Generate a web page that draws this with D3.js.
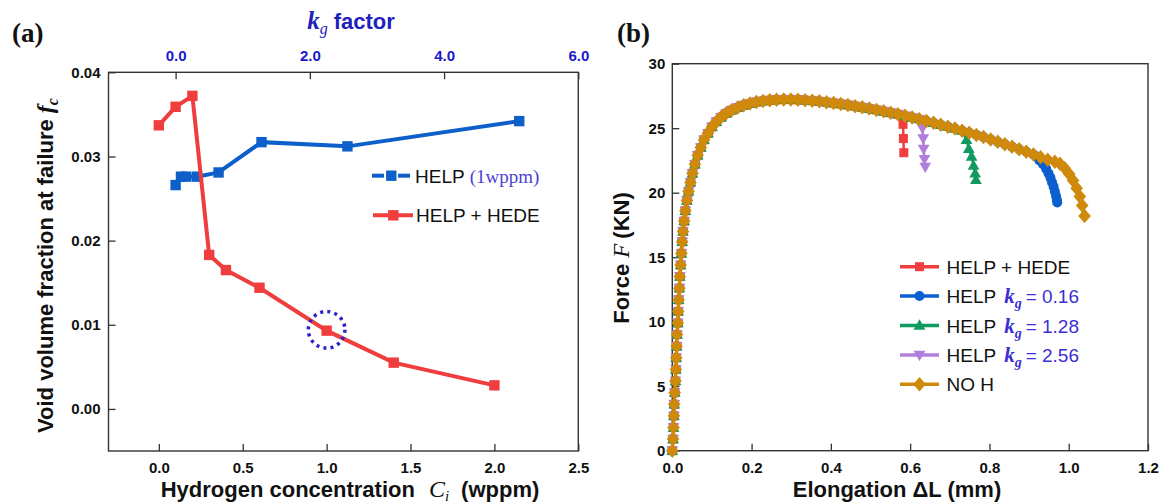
<!DOCTYPE html>
<html>
<head>
<meta charset="utf-8">
<script src="https://cdn.jsdelivr.net/npm/d3@7"></script>
<style>
  body { margin: 0; background: #fff; }
  svg { display: block; }
</style>
</head>
<body>
<script>
// ---- panel (a) data ----
var ciValues = [0.0, 0.1, 0.2, 0.3, 0.4, 0.6, 1.0, 1.4, 2.0];
var fcHede   = [0.0337, 0.0359, 0.0372, 0.0183, 0.0165, 0.0144, 0.0093, 0.0055, 0.0028];
var kgValues = [0.0, 0.08, 0.16, 0.32, 0.64, 1.28, 2.56, 5.12];
var fcHelp   = [0.0266, 0.0276, 0.0276, 0.0276, 0.0281, 0.0317, 0.0312, 0.0342];
var ciTicks  = [0.0, 0.5, 1.0, 1.5, 2.0, 2.5];
var kgTicks  = [0.0, 2.0, 4.0, 6.0];
var fcTicks  = [0.00, 0.01, 0.02, 0.03, 0.04];
var markedCi = 1.0, markedFc = 0.0094;

// ---- panel (b) data ----
// shared loading curve (elongation mm, force kN)
var baseElong = [0, 0.002, 0.003, 0.004, 0.005, 0.006, 0.008, 0.009, 0.010, 0.011, 0.012, 0.014,
  0.015, 0.016, 0.018, 0.019, 0.021, 0.023, 0.025, 0.027, 0.030, 0.033, 0.037, 0.041, 0.046,
  0.051, 0.057, 0.064, 0.072, 0.080, 0.090, 0.100, 0.111, 0.123, 0.136, 0.150, 0.165, 0.180,
  0.196, 0.212, 0.229, 0.246, 0.263, 0.281, 0.299, 0.317, 0.335, 0.353, 0.371, 0.389, 0.407,
  0.425, 0.443, 0.461, 0.479, 0.497, 0.515, 0.533, 0.551, 0.569, 0.587, 0.605, 0.623, 0.641,
  0.659, 0.677, 0.695, 0.713, 0.731, 0.749, 0.767, 0.785, 0.803, 0.821, 0.839, 0.857, 0.875,
  0.893, 0.911, 0.929, 0.947, 0.965];
var baseForce = [0, 0.9, 1.8, 2.7, 3.6, 4.5, 5.4, 6.3, 7.2, 8.1, 9.0, 9.9,
  10.8, 11.7, 12.6, 13.5, 14.4, 15.3, 16.2, 17.0, 17.8, 18.6, 19.4, 20.1, 20.8,
  21.5, 22.2, 22.9, 23.5, 24.1, 24.6, 25.1, 25.5, 25.85, 26.15, 26.4, 26.6, 26.78,
  26.92, 27.03, 27.11, 27.17, 27.2, 27.22, 27.22, 27.2, 27.17, 27.13, 27.08, 27.02, 26.95,
  26.88, 26.8, 26.71, 26.62, 26.52, 26.42, 26.31, 26.2, 26.08, 25.96, 25.83, 25.7, 25.56,
  25.42, 25.27, 25.12, 24.97, 24.81, 24.65, 24.48, 24.31, 24.13, 23.95, 23.76, 23.57, 23.37,
  23.17, 22.96, 22.75, 22.55, 22.4];

var hedeEnd = 0.575, hedeTailE = [0.582, 0.583, 0.584], hedeTailF = [25.3, 24.2, 23.1];
var kg016End = 0.911, kg016TailE = [0.918, 0.926, 0.935, 0.943, 0.949, 0.954, 0.958, 0.962, 0.965, 0.968, 0.970, 0.971],
    kg016TailF = [22.8, 22.5, 22.2, 21.85, 21.5, 21.15, 20.8, 20.45, 20.1, 19.75, 19.45, 19.25];
var kg128End = 0.735, kg128TailE = [0.742, 0.748, 0.755, 0.760, 0.764, 0.766],
    kg128TailF = [24.1, 23.4, 22.8, 22.1, 21.5, 21.0];
var kg256End = 0.625, kg256TailE = [0.631, 0.633, 0.634, 0.636, 0.638],
    kg256TailF = [25.0, 24.2, 23.4, 22.6, 22.0];
var noHEnd = 0.965, noHTailE = [0.978, 0.990, 1.001, 1.011, 1.020, 1.028, 1.034, 1.040],
    noHTailF = [22.25, 21.9, 21.45, 20.95, 20.35, 19.7, 19.0, 18.2];
var elongTicks = [0, 0.2, 0.4, 0.6, 0.8, 1.0, 1.2];
var forceTicks = [0, 5, 10, 15, 20, 25, 30];

var SANS = "'Liberation Sans', Arial, sans-serif";
var SERIF = "'Liberation Serif', 'Times New Roman', serif";
var RED = '#f03d3d', BLUE = '#0d5fc9';

var svg = d3.select('body').append('svg')
  .attr('width', 1161)
  .attr('height', 504);

// marker shapes as paths
function markerPath(type, s) {
  if (type === 'square') return 'M' + (-s) + ',' + (-s) + 'h' + (2 * s) + 'v' + (2 * s) + 'h' + (-2 * s) + 'Z';
  if (type === 'circle') return 'M' + (-s) + ',0a' + s + ',' + s + ' 0 1,0 ' + (2 * s) + ',0a' + s + ',' + s + ' 0 1,0 ' + (-2 * s) + ',0Z';
  if (type === 'up') return 'M0,' + (-s * 1.1) + 'L' + (s * 1.05) + ',' + (s * 0.75) + 'L' + (-s * 1.05) + ',' + (s * 0.75) + 'Z';
  if (type === 'down') return 'M0,' + (s * 1.1) + 'L' + (s * 1.05) + ',' + (-s * 0.75) + 'L' + (-s * 1.05) + ',' + (-s * 0.75) + 'Z';
  if (type === 'diamond') return 'M0,' + (-s * 1.15) + 'L' + s + ',0L0,' + (s * 1.15) + 'L' + (-s) + ',0Z';
}

// frame + inward ticks styling
function styleAxis(g, color) {
  g.select('.domain').remove();
  g.selectAll('.tick line').attr('stroke', '#333').attr('stroke-width', 1.3);
  g.selectAll('.tick text')
    .attr('font-family', SANS)
    .attr('font-weight', 'bold')
    .attr('font-size', 15)
    .attr('fill', color || '#111');
}

// =================== panel (a) ===================
var xA = d3.scaleLinear().domain([-0.3, 2.5]).range([108.5, 578.3]);
var kA = d3.scaleLinear().domain([-1, 6]).range([108.5, 578.3]);
var yA = d3.scaleLinear().domain([-0.005, 0.04]).range([451, 72.3]);

svg.append('g').attr('transform', 'translate(0,451)')
  .call(d3.axisBottom(xA).tickValues(ciTicks).tickFormat(d3.format('.1f'))
    .tickSizeInner(-7).tickSizeOuter(0).tickPadding(11.5))
  .call(styleAxis);
svg.append('g').attr('transform', 'translate(108.5,0)')
  .call(d3.axisLeft(yA).tickValues(fcTicks).tickFormat(d3.format('.2f'))
    .tickSizeInner(-7).tickSizeOuter(0).tickPadding(8))
  .call(styleAxis);
svg.append('g').attr('transform', 'translate(0,72.3)')
  .call(d3.axisTop(kA).tickValues(kgTicks).tickFormat(d3.format('.1f'))
    .tickSizeInner(-7).tickSizeOuter(0).tickPadding(11))
  .call(function(g) { styleAxis(g, '#1a1acb'); });

svg.append('rect')
  .attr('x', 108.5).attr('y', 72.3)
  .attr('width', 578.3 - 108.5).attr('height', 451 - 72.3)
  .attr('fill', 'none').attr('stroke', '#333').attr('stroke-width', 1.4);

// HELP (top axis, kg)
var helpPts = kgValues.map(function(k, i) { return [kA(k), yA(fcHelp[i])]; });
svg.append('path')
  .attr('d', d3.line()(helpPts))
  .attr('fill', 'none').attr('stroke', BLUE).attr('stroke-width', 4);
svg.selectAll('.helpm').data(helpPts).enter().append('path')
  .attr('class', 'helpm')
  .attr('d', markerPath('square', 5.2))
  .attr('transform', function(d) { return 'translate(' + d[0] + ',' + d[1] + ')'; })
  .attr('fill', BLUE);

// HELP + HEDE (bottom axis, Ci)
var hedePts = ciValues.map(function(c, i) { return [xA(c), yA(fcHede[i])]; });
svg.append('path')
  .attr('d', d3.line()(hedePts))
  .attr('fill', 'none').attr('stroke', RED).attr('stroke-width', 4);
svg.selectAll('.hedem').data(hedePts).enter().append('path')
  .attr('class', 'hedem')
  .attr('d', markerPath('square', 5.2))
  .attr('transform', function(d) { return 'translate(' + d[0] + ',' + d[1] + ')'; })
  .attr('fill', RED);

// dotted circle marking 1 wppm
svg.append('circle')
  .attr('cx', xA(markedCi)).attr('cy', yA(markedFc)).attr('r', 18.3)
  .attr('fill', 'none').attr('stroke', '#2a21c8').attr('stroke-width', 3.5)
  .attr('stroke-dasharray', '3,4.2');

// legend (a)
var legA = svg.append('g');
legA.append('line').attr('x1', 372).attr('x2', 384).attr('y1', 175.7).attr('y2', 175.7)
  .attr('stroke', BLUE).attr('stroke-width', 4);
legA.append('line').attr('x1', 398).attr('x2', 410).attr('y1', 175.7).attr('y2', 175.7)
  .attr('stroke', BLUE).attr('stroke-width', 4);
legA.append('path').attr('d', markerPath('square', 5.2))
  .attr('transform', 'translate(391.3,175.7)').attr('fill', BLUE);
var t1 = legA.append('text').attr('x', 415).attr('y', 182.5)
  .attr('font-family', SANS).attr('font-size', 19).attr('fill', '#111').text('HELP');
t1.append('tspan').attr('dx', 5).attr('font-family', SERIF).attr('fill', '#4b3fd6').text('(1wppm)');

legA.append('line').attr('x1', 373).attr('x2', 413).attr('y1', 215.3).attr('y2', 215.3)
  .attr('stroke', RED).attr('stroke-width', 4);
legA.append('path').attr('d', markerPath('square', 5.2))
  .attr('transform', 'translate(393.3,215.3)').attr('fill', RED);
legA.append('text').attr('x', 416).attr('y', 222)
  .attr('font-family', SANS).attr('font-size', 19).attr('fill', '#111').text('HELP + HEDE');

// axis titles (a)
var xtA = svg.append('text').attr('x', 350).attr('y', 496.5).attr('text-anchor', 'middle')
  .attr('font-family', SANS).attr('font-weight', 'bold').attr('font-size', 22).attr('fill', '#111')
  .text('Hydrogen concentration');
xtA.append('tspan').attr('dx', 14).attr('font-family', SERIF).attr('font-style', 'italic')
  .attr('font-weight', 'normal').attr('font-size', 24).text('C');
xtA.append('tspan').attr('dy', 4).attr('font-family', SERIF).attr('font-style', 'italic')
  .attr('font-weight', 'normal').attr('font-size', 15).text('i');
xtA.append('tspan').attr('dx', 12).attr('dy', -4).text('(wppm)');

var ytA = svg.append('text').attr('transform', 'translate(53,265.5) rotate(-90)')
  .attr('text-anchor', 'middle')
  .attr('font-family', SANS).attr('font-weight', 'bold').attr('font-size', 22).attr('fill', '#111')
  .text('Void volume fraction at failure ');
ytA.append('tspan').attr('font-family', SERIF).attr('font-style', 'italic').attr('font-size', 24).text('f');
ytA.append('tspan').attr('dy', 5).attr('font-family', SERIF).attr('font-style', 'italic').attr('font-size', 16).text('c');

var ttA = svg.append('text').attr('x', 351).attr('y', 28.5).attr('text-anchor', 'middle')
  .attr('fill', '#2020bb').attr('font-size', 22);
ttA.append('tspan').attr('font-family', SERIF).attr('font-style', 'italic').attr('font-weight', 'bold').attr('font-size', 25).text('k');
ttA.append('tspan').attr('dy', 5).attr('font-family', SERIF).attr('font-style', 'italic').attr('font-size', 16).text('g');
ttA.append('tspan').attr('dy', -5).attr('dx', 6).attr('font-family', SANS).attr('font-weight', 'bold').text('factor');

svg.append('text').attr('x', 12).attr('y', 42).attr('font-family', SERIF)
  .attr('font-weight', 'bold').attr('font-size', 27).attr('fill', '#111').text('(a)');

// =================== panel (b) ===================
var xB = d3.scaleLinear().domain([0, 1.2]).range([672.3, 1148]);
var yB = d3.scaleLinear().domain([0, 30]).range([450.7, 63.7]);

svg.append('g').attr('transform', 'translate(0,450.7)')
  .call(d3.axisBottom(xB).tickValues(elongTicks).tickFormat(d3.format('.1f'))
    .tickSizeInner(-7).tickSizeOuter(0).tickPadding(11.5))
  .call(styleAxis);
svg.append('g').attr('transform', 'translate(672.3,0)')
  .call(d3.axisLeft(yB).tickValues(forceTicks).tickFormat(d3.format('d'))
    .tickSizeInner(-7).tickSizeOuter(0).tickPadding(7))
  .call(styleAxis);

svg.append('rect')
  .attr('x', 672.3).attr('y', 63.7)
  .attr('width', 1148 - 672.3).attr('height', 450.7 - 63.7)
  .attr('fill', 'none').attr('stroke', '#333').attr('stroke-width', 1.4);

var seriesB = [
  { color: RED,       shape: 'square',  size: 4.5, end: hedeEnd,  tailE: hedeTailE,  tailF: hedeTailF },
  { color: '#0b5fd0', shape: 'circle',  size: 5.0, end: kg016End, tailE: kg016TailE, tailF: kg016TailF },
  { color: '#119a5f', shape: 'up',      size: 5.6, end: kg128End, tailE: kg128TailE, tailF: kg128TailF },
  { color: '#b07fdb', shape: 'down',    size: 5.6, end: kg256End, tailE: kg256TailE, tailF: kg256TailF },
  { color: '#cf8a0c', shape: 'diamond', size: 6.3, end: noHEnd,   tailE: noHTailE,   tailF: noHTailF }
];

seriesB.forEach(function(s) {
  var pts = [];
  baseElong.forEach(function(e, i) {
    if (e <= s.end) pts.push([xB(e), yB(baseForce[i])]);
  });
  s.tailE.forEach(function(e, i) { pts.push([xB(e), yB(s.tailF[i])]); });
  var g = svg.append('g');
  g.append('path').attr('d', d3.line()(pts))
    .attr('fill', 'none').attr('stroke', s.color).attr('stroke-width', 2.5);
  g.selectAll('path.m').data(pts).enter().append('path')
    .attr('class', 'm')
    .attr('d', markerPath(s.shape, s.size))
    .attr('transform', function(d) { return 'translate(' + d[0] + ',' + d[1] + ')'; })
    .attr('fill', s.color);
});

// legend (b)
var legRows = [266.7, 296, 325.5, 355, 384.3];
var legLabels = [
  { main: 'HELP + HEDE' },
  { main: 'HELP', kg: '0.16' },
  { main: 'HELP', kg: '1.28' },
  { main: 'HELP', kg: '2.56' },
  { main: 'NO H' }
];
seriesB.forEach(function(s, i) {
  var y = legRows[i];
  var g = svg.append('g');
  g.append('line').attr('x1', 900).attr('x2', 939).attr('y1', y).attr('y2', y)
    .attr('stroke', s.color).attr('stroke-width', 3.5);
  g.append('path').attr('d', markerPath(s.shape, s.size))
    .attr('transform', 'translate(919.5,' + y + ')').attr('fill', s.color);
  var t = g.append('text').attr('x', 946.5).attr('y', y + 7)
    .attr('font-family', SANS).attr('font-size', 19).attr('fill', '#111')
    .text(legLabels[i].main);
  if (legLabels[i].kg) {
    t.append('tspan').attr('dx', 8).attr('font-family', SERIF).attr('font-style', 'italic')
      .attr('font-weight', 'bold').attr('font-size', 21).attr('fill', '#3c2fd4').text('k');
    t.append('tspan').attr('dy', 5).attr('font-family', SERIF).attr('font-style', 'italic')
      .attr('font-weight', 'bold').attr('font-size', 14).attr('fill', '#3c2fd4').text('g');
    t.append('tspan').attr('dy', -5).attr('dx', 4).attr('fill', '#3c2fd4').text('= ' + legLabels[i].kg);
  }
});

// axis titles (b)
svg.append('text').attr('x', 897).attr('y', 496.5).attr('text-anchor', 'middle')
  .attr('font-family', SANS).attr('font-weight', 'bold').attr('font-size', 22).attr('fill', '#111')
  .text('Elongation \u0394L (mm)');

var ytB = svg.append('text').attr('transform', 'translate(629,258) rotate(-90)')
  .attr('text-anchor', 'middle')
  .attr('font-family', SANS).attr('font-weight', 'bold').attr('font-size', 22).attr('fill', '#111')
  .text('Force ');
ytB.append('tspan').attr('font-family', SERIF).attr('font-style', 'italic').attr('font-weight', 'normal')
  .attr('font-size', 23).text('F');
ytB.append('tspan').attr('dx', 5).text('(KN)');

svg.append('text').attr('x', 617).attr('y', 42).attr('font-family', SERIF)
  .attr('font-weight', 'bold').attr('font-size', 27).attr('fill', '#111').text('(b)');
</script>
</body>
</html>
